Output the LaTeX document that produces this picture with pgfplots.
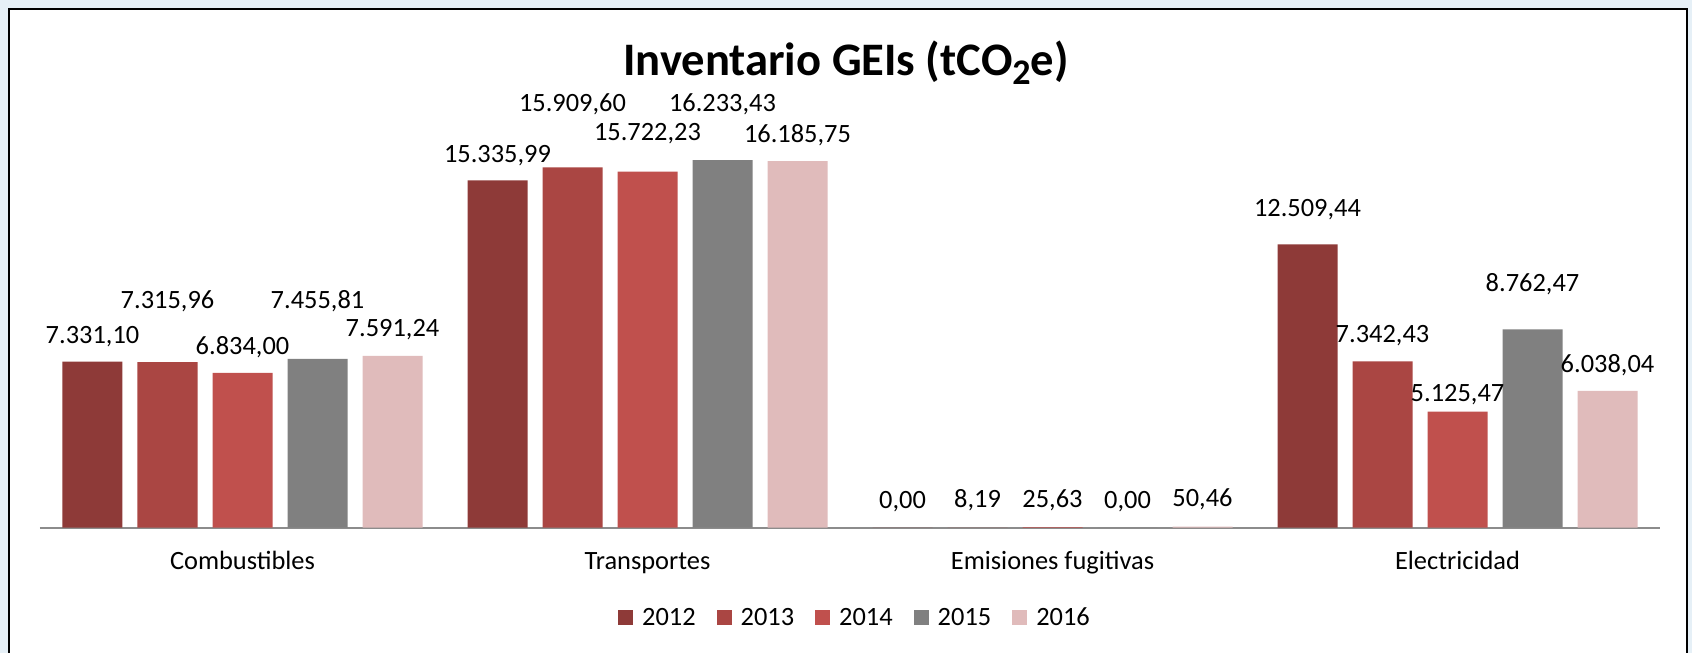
\documentclass[border=0pt]{standalone}
\usepackage{pgfplots}
\pgfplotsset{compat=1.18}
\usepackage{pgfplotstable}
\usepackage{fontspec}
\setmainfont{Carlito}

\definecolor{c2012}{HTML}{8E3A38}
\definecolor{c2013}{HTML}{AA4643}
\definecolor{c2014}{HTML}{C0504D}
\definecolor{c2015}{HTML}{808080}
\definecolor{c2016}{HTML}{E0BBBB}
\definecolor{axisgray}{HTML}{8C8C8C}
\definecolor{bgblue}{HTML}{E6F0F7}

% dy = label baseline above bar top (pt)
\pgfplotstableread{
x y dy
0 7331.10 9.3
1 15335.99 9.05
2 0.00 9.85
3 12509.44 13.9
}\dataA
\pgfplotstableread{
x y dy
0 7315.96 26.9
1 15909.60 27.9
2 8.19 9.85
3 7342.43 9.35
}\dataB
\pgfplotstableread{
x y dy
0 6834.00 9.2
1 15722.23 15.35
2 25.63 9.85
3 5125.47 5.0
}\dataC
\pgfplotstableread{
x y dy
0 7455.81 25.3
1 16233.43 24.55
2 0.00 9.85
3 8762.47 18.8
}\dataD
\pgfplotstableread{
x y dy
0 7591.24 9.5
1 16185.75 9.25
2 50.46 9.85
3 6038.04 9.15
}\dataE

\newcommand{\lblfont}{\fontsize{13.2}{15}\selectfont}

\begin{document}
\begin{tikzpicture}
\useasboundingbox (0,0) rectangle (846pt,326.5pt);
\clip (0,0) rectangle (846pt,326.5pt);
\fill[bgblue] (0,0) rectangle (846pt,326.5pt);
\filldraw[fill=white, draw=black, line width=1pt] (4.3pt,-5pt) rectangle (843.5pt,322pt);
\begin{axis}[
    at={(20pt,62.65pt)}, anchor=south west,
    scale only axis, width=810pt, height=203.8pt,
    ybar=7.5pt, bar width=30pt,
    legend image code/.code={\fill[#1] (0pt,-3.75pt) rectangle (7.5pt,3.75pt); \path (10pt,0pt);},
    xmin=-0.5, xmax=3.5, ymin=0, ymax=18000,
    axis x line=bottom, axis y line=none,
    x axis line style={-, draw=axisgray, line width=1pt},
    xtick={0,1,2,3},
    xticklabels={Combustibles, Transportes, Emisiones fugitivas, Electricidad},
    major tick length=0pt,
    xticklabel style={font=\lblfont, anchor=base, yshift=-21pt},
    clip=false,
    /pgf/number format/assume math mode=true,
    visualization depends on={\thisrow{dy} \as \dy},
    nodes near coords={\pgfmathprintnumber[fixed, fixed zerofill, precision=2, use comma, 1000 sep={.}]{\pgfplotspointmeta}},
    nodes near coords style={font=\lblfont, anchor=base, yshift=\dy pt, text=black},
    every axis title shift=0pt,
    title={Inventario GEIs (tCO\raisebox{-4.5pt}{\fontsize{18}{18}\selectfont 2}e)},
    title style={at={(0.4975,1.1106)}, anchor=base, font=\fontsize{23.3}{28}\selectfont\bfseries},
    legend columns=5,
    legend style={at={(0.5037,-0.2215)}, anchor=center, draw=none, fill=none, font=\lblfont,
        /tikz/every even column/.append style={column sep=8.5pt}},
]
\addplot[fill=c2012, draw=none] table[x=x, y=y] {\dataA};
\addplot[fill=c2013, draw=none] table[x=x, y=y] {\dataB};
\addplot[fill=c2014, draw=none] table[x=x, y=y] {\dataC};
\addplot[fill=c2015, draw=none] table[x=x, y=y] {\dataD};
\addplot[fill=c2016, draw=none] table[x=x, y=y] {\dataE};
\legend{2012,2013,2014,2015,2016}
\end{axis}
\end{tikzpicture}
\end{document}
